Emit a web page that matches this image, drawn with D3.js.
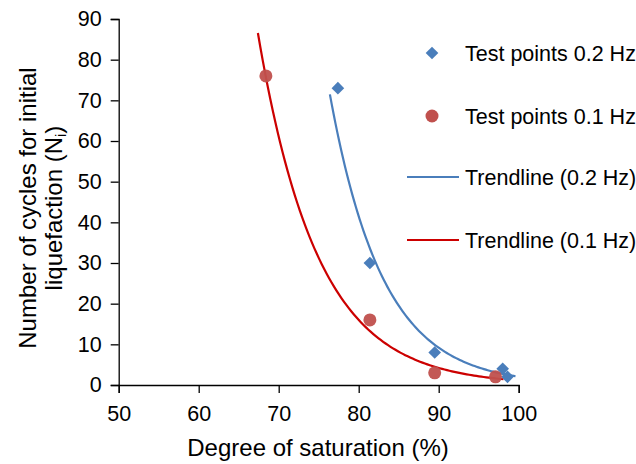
<!DOCTYPE html>
<meta charset="utf-8">
<style>
  body { margin: 0; background: white; }
  text { font-family: "Liberation Sans", Arial, sans-serif; fill: #000; }
</style>
<body>
<div id="chart"></div>
<script src="https://d3js.org/d3.v7.min.js"></script>
<script>
// test points
const sat02 = [77.4, 81.4, 89.5, 98.0, 98.6];
const cyc02 = [73, 30, 8, 4, 2];
const sat01 = [68.4, 81.4, 89.5, 97.1];
const cyc01 = [76, 16, 3, 2];

const xTicks = [50, 60, 70, 80, 90, 100];
const yTicks = [0, 10, 20, 30, 40, 50, 60, 70, 80, 90];

const width = 636, height = 464;
const svg = d3.select('#chart').append('svg')
    .attr('width', width)
    .attr('height', height);

const x = d3.scaleLinear().domain([50, 100]).range([118.7, 518.7]);
const y = d3.scaleLinear().domain([0, 90]).range([385, 19]);

// exponential trendline, same as excel (least squares on ln y)
function expFit(xs, ys) {
    const ly = ys.map(Math.log);
    const mx = d3.mean(xs), my = d3.mean(ly);
    let sxy = 0, sxx = 0;
    xs.forEach((v, i) => {
        sxy += (v - mx) * (ly[i] - my);
        sxx += (v - mx) * (v - mx);
    });
    const b = sxy / sxx;
    const a = Math.exp(my - b * mx);
    const x0 = d3.min(xs) - 1, x1 = d3.max(xs) + 1;
    return d3.range(0, 101).map(i => {
        const xv = x0 + (x1 - x0) * i / 100;
        return [xv, a * Math.exp(b * xv)];
    });
}

const line = d3.line().x(d => x(d[0])).y(d => y(d[1]));

// axes
const xAxis = svg.append('g')
    .attr('transform', `translate(0,${y(0)})`)
    .call(d3.axisBottom(x).tickValues(xTicks).tickSize(8).tickPadding(13));
const yAxis = svg.append('g')
    .attr('transform', `translate(${x(50)},0)`)
    .call(d3.axisLeft(y).tickValues(yTicks).tickSize(8).tickPadding(9));
[xAxis, yAxis].forEach(g => {
    g.select('.domain').attr('stroke', '#000').attr('stroke-width', 1.3);
    g.selectAll('.tick line').attr('stroke', '#000').attr('stroke-width', 1.3);
    g.selectAll('.tick text')
        .attr('font-family', '"Liberation Sans", Arial, sans-serif')
        .attr('font-size', 21.5).attr('fill', '#000');
});

// trendlines
svg.append('path')
    .datum(expFit(sat02, cyc02))
    .attr('d', line)
    .attr('fill', 'none')
    .attr('stroke', '#4A7EBB')
    .attr('stroke-width', 2.2);
svg.append('path')
    .datum(expFit(sat01, cyc01))
    .attr('d', line)
    .attr('fill', 'none')
    .attr('stroke', '#CC0000')
    .attr('stroke-width', 2.2);

// points
const diamond = d3.symbol().type(d3.symbolSquare).size(80);
svg.append('g').selectAll('path')
    .data(sat02.map((v, i) => [v, cyc02[i]]))
    .join('path')
    .attr('d', diamond)
    .attr('transform', d => `translate(${x(d[0])},${y(d[1])}) rotate(45)`)
    .attr('fill', '#4A7EBB');
svg.append('g').selectAll('circle')
    .data(sat01.map((v, i) => [v, cyc01[i]]))
    .join('circle')
    .attr('cx', d => x(d[0]))
    .attr('cy', d => y(d[1]))
    .attr('r', 6.5)
    .attr('fill', '#C0504D')
    .attr('fill-opacity', 0.95);

// axis titles
svg.append('text')
    .attr('x', 318).attr('y', 456)
    .attr('text-anchor', 'middle')
    .attr('font-size', 24)
    .text('Degree of saturation (%)');
const yt = svg.append('text')
    .attr('transform', 'translate(36,208) rotate(-90)')
    .attr('text-anchor', 'middle')
    .attr('font-size', 24);
yt.append('tspan').attr('x', 0).attr('y', 0).text('Number of cycles for initial');
const l2 = yt.append('tspan').attr('x', 0).attr('y', 26);
l2.append('tspan').text('liquefaction (N');
l2.append('tspan').attr('font-size', 15).attr('dy', 4).text('i');
l2.append('tspan').attr('dy', -4).text(')');

// legend
const legend = svg.append('g');
const lx = 432, tx = 465;
legend.append('path')
    .attr('d', diamond)
    .attr('transform', `translate(${lx},53) rotate(45)`)
    .attr('fill', '#4A7EBB');
legend.append('circle')
    .attr('cx', lx).attr('cy', 116).attr('r', 6.5)
    .attr('fill', '#C0504D');
legend.append('line')
    .attr('x1', 407).attr('x2', 459).attr('y1', 177).attr('y2', 177)
    .attr('stroke', '#4A7EBB').attr('stroke-width', 2.2);
legend.append('line')
    .attr('x1', 407).attr('x2', 459).attr('y1', 240).attr('y2', 240)
    .attr('stroke', '#CC0000').attr('stroke-width', 2.2);
const labels = ['Test points 0.2 Hz', 'Test points 0.1 Hz', 'Trendline (0.2 Hz)', 'Trendline (0.1 Hz)'];
const labelY = [53, 116, 177, 240];
legend.selectAll('text.lab')
    .data(labels)
    .join('text')
    .attr('class', 'lab')
    .attr('x', tx)
    .attr('y', (d, i) => labelY[i] + 7.5)
    .attr('font-size', 21.5)
    .text(d => d);
</script>
</body>
